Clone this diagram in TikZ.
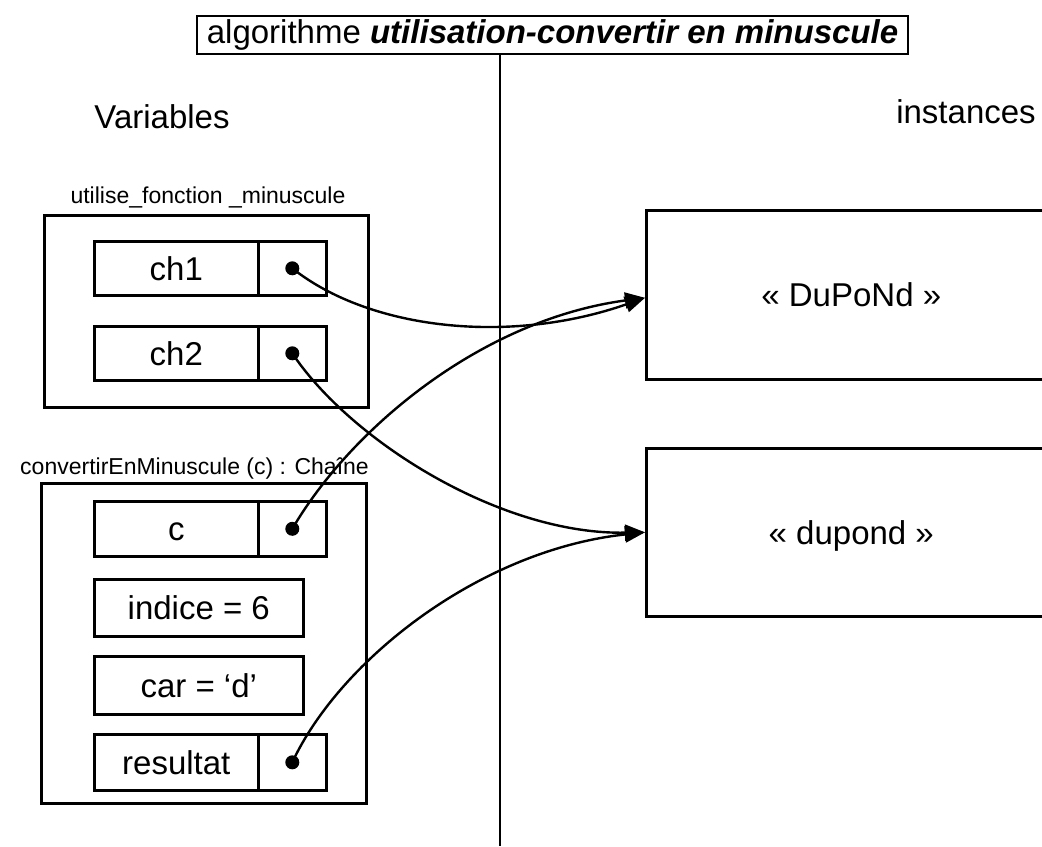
\documentclass[tikz,border=0pt]{standalone}
\usepackage{fontspec}
\setmainfont{Liberation Sans}
\usetikzlibrary{arrows.meta}
\begin{document}
\begin{tikzpicture}[x=0.5pt,y=-0.5pt,
  mainfont/.style={font=\fontsize{16.5}{20}\selectfont},
  smallfont/.style={font=\fontsize{11.5}{14}\selectfont},
  cell/.style={draw, line width=1.3pt, inner sep=0pt, anchor=north west, mainfont, text height=11.8pt, text depth=0pt},
  frame/.style={draw, line width=1.4pt, inner sep=0pt, anchor=north west},
  ptrdot/.style={circle, fill=black, inner sep=0pt, minimum size=7pt},
  conn/.style={line width=1.2pt, -{Triangle[length=10pt,width=8pt]}},
  lbl/.style={inner sep=0pt, smallfont},
  hdr/.style={inner sep=0pt, mainfont}]
\useasboundingbox (0,0) rectangle (1042,846);
\begin{scope}
\clip (0,0) rectangle (1042,846);

% title and separator
\node[draw, line width=1pt, inner sep=0pt, minimum width=355.5pt, minimum height=19pt, mainfont]
  (title) at (552.5,35) {algorithme \textbf{\textit{utilisation-convertir en minuscule}}};
\coordinate (vbot) at (500,846);
\draw[line width=1.3pt] (vbot |- title.south) -- (vbot);

% headers
\node[hdr] (vars) at (162,117) {Variables};
\node[hdr] (inst) at (966,112) {instances};

% frame 1
\node[lbl] (f1lbl) at (208,197) {utilise\_fonction \_minuscule};
\node[frame, minimum width=162pt, minimum height=96pt] (f1) at (43,214) {};
\node[cell, minimum width=82pt, minimum height=27pt] (ch1) at (93,240) {ch1};
\node[cell, minimum width=34pt, minimum height=27pt] (p1) at (257,240) {};
\node[cell, minimum width=82pt, minimum height=27pt] (ch2) at (93,325) {ch2};
\node[cell, minimum width=34pt, minimum height=27pt] (p2) at (257,325) {};

% frame 2
\node[lbl] (f2lbl) at (194.5,468) {convertirEnMinuscule (c) : Chaîne};
\node[frame, minimum width=162.5pt, minimum height=160pt] (f2) at (40,482) {};
\node[cell, minimum width=82pt, minimum height=27.5pt] (cc) at (93,500) {c};
\node[cell, minimum width=34pt, minimum height=27.5pt] (p3) at (257,500) {};
\node[cell, minimum width=104.5pt, minimum height=28.5pt] (ind) at (93,578) {indice = 6};
\node[cell, minimum width=104.5pt, minimum height=29pt] (car) at (93,655) {car = ‘d’};
\node[cell, minimum width=82pt, minimum height=28pt] (res) at (93,733) {resultat};
\node[cell, minimum width=34pt, minimum height=28pt] (p4) at (257,733) {};

% instances
\node[cell, minimum width=205pt, minimum height=84.5pt] (dup) at (645,209) {« DuPoNd »};
\node[cell, minimum width=205pt, minimum height=84pt] (dpd) at (645,447) {« dupond »};

% dots
\node[ptrdot] (d1) at (p1.center) {};
\node[ptrdot] (d2) at (p2.center) {};
\node[ptrdot] (d3) at (p3.center) {};
\node[ptrdot] (d4) at (p4.center) {};

% connectors
\draw[conn] (d1.center) .. controls (370,330) and (510,345) .. ([yshift=-1.5pt]dup.west);
\draw[conn] (d3.center) .. controls (350,430) and (480,320) .. ([yshift=-1.5pt]dup.west);
\draw[conn] (d2.center) .. controls (350,440) and (500,535) .. (dpd.west);
\draw[conn] (d4.center) .. controls (340,660) and (480,550) .. (dpd.west);
\end{scope}
\end{tikzpicture}
\end{document}
